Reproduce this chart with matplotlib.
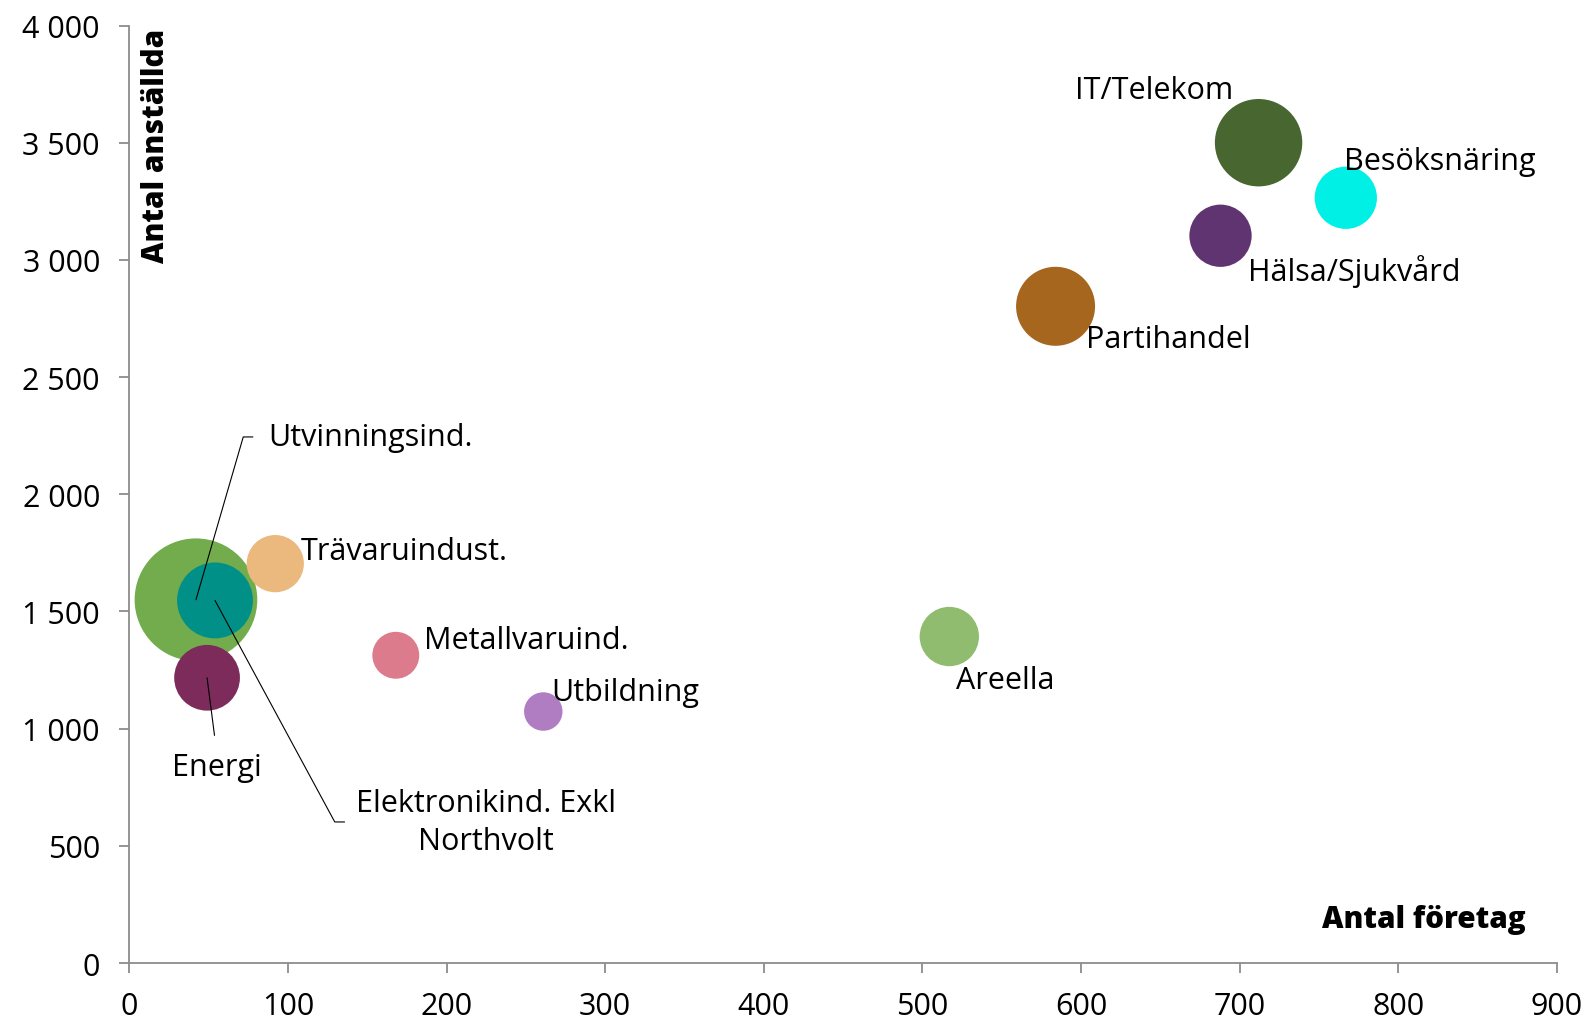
import matplotlib
matplotlib.use("Agg")
import matplotlib.pyplot as plt
from matplotlib.ticker import FuncFormatter, MultipleLocator

# Data
branscher = [
    "Utvinningsind.", "Elektronikind. Exkl\nNorthvolt", "Energi", "Trävaruindust.",
    "Metallvaruind.", "Utbildning", "Areella", "Partihandel",
    "Hälsa/Sjukvård", "IT/Telekom", "Besöksnäring",
]
antal_foretag = [42, 54, 49, 92, 168, 261, 517, 584, 688, 712, 767]
antal_anstallda = [1550, 1547, 1217, 1704, 1313, 1073, 1393, 2802, 3103, 3500, 3265]
# relative bubble size (area units)
storlek = [37.6, 14.4, 10.8, 8.2, 5.5, 3.7, 8.8, 15.6, 9.7, 19.1, 9.7]
farger = [
    "#72AC4D", "#009088", "#7D2B5B", "#EBB97E", "#DB7B8C", "#B07CC2",
    "#8FBC6F", "#A6661E", "#603470", "#476630", "#00F0E6",
]

plt.rcParams["font.family"] = ["Open Sans", "DejaVu Sans"]
FS = 22
FS_TITEL = 21.3

fig = plt.figure(figsize=(15.89, 10.20), dpi=100)
ax = fig.add_axes([0.0814, 0.0549, 0.8983, 0.9191])

ax.scatter(antal_foretag, antal_anstallda, s=[v * 207.36 for v in storlek],
           c=farger, linewidths=0, zorder=2)

# label placement: (dx, dy) in points, ha, va
placering = {
    "Utvinningsind.": (52, 117.2, "left", "center"),
    "Elektronikind. Exkl\nNorthvolt": (194.9, -159.5, "center", "center"),
    "Energi": (6.9, -64.2, "center", "center"),
    "Trävaruindust.": (18.4, 8.9, "left", "center"),
    "Metallvaruind.": (20.1, 10.7, "left", "center"),
    "Utbildning": (5.8, 13.9, "left", "center"),
    "Areella": (5.1, -31.3, "left", "center"),
    "Partihandel": (22.2, -23.3, "left", "center"),
    "Hälsa/Sjukvård": (19.7, -25, "left", "center"),
    "IT/Telekom": (-18.4, 37.9, "right", "center"),
    "Besöksnäring": (-1.4, 26.5, "left", "center"),
}
leader = {
    "Utvinningsind.": dict(relpos=(0, 0.5), connectionstyle="angle,angleA=0,angleB=73.8,rad=0", shrinkA=9),
    "Elektronikind. Exkl\nNorthvolt": dict(relpos=(0, 0.5), connectionstyle="angle,angleA=0,angleB=-61.6,rad=0", shrinkA=6),
    "Energi": dict(relpos=(0.5, 1), connectionstyle="arc3", shrinkA=10),
}

for namn, x, y in zip(branscher, antal_foretag, antal_anstallda):
    dx, dy, ha, va = placering[namn]
    arrow = None
    if namn in leader:
        arrow = dict(arrowstyle="-", color="black", lw=0.8, shrinkB=0, **leader[namn])
    ax.annotate(namn, xy=(x, y), xytext=(dx, dy), textcoords="offset points",
                ha=ha, va=va, multialignment="center", fontsize=FS,
                linespacing=1.38, color="black", arrowprops=arrow, zorder=3)

ax.set_xlim(0, 900)
ax.set_ylim(0, 4000)
ax.xaxis.set_major_locator(MultipleLocator(100))
ax.yaxis.set_major_locator(MultipleLocator(500))
ax.yaxis.set_major_formatter(FuncFormatter(lambda v, p: f"{int(v):,}".replace(",", " ")))

for side in ["top", "right"]:
    ax.spines[side].set_visible(False)
for side in ["left", "bottom"]:
    ax.spines[side].set_color("#8C8C8C")
    ax.spines[side].set_linewidth(1.3)
ax.tick_params(axis="both", colors="#8C8C8C", labelcolor="black", labelsize=FS,
               length=7.2, width=1.3, direction="out")
ax.tick_params(axis="y", pad=14)
ax.tick_params(axis="x", pad=13)

ax.text(0.019, 0.998, "Antal anställda", transform=ax.transAxes, rotation=90,
        ha="center", va="top", fontsize=FS_TITEL, fontweight="heavy")
ax.text(0.9785, 0.047, "Antal företag", transform=ax.transAxes,
        ha="right", va="center", fontsize=FS_TITEL, fontweight="heavy")

fig.savefig("out.png", dpi=100)
